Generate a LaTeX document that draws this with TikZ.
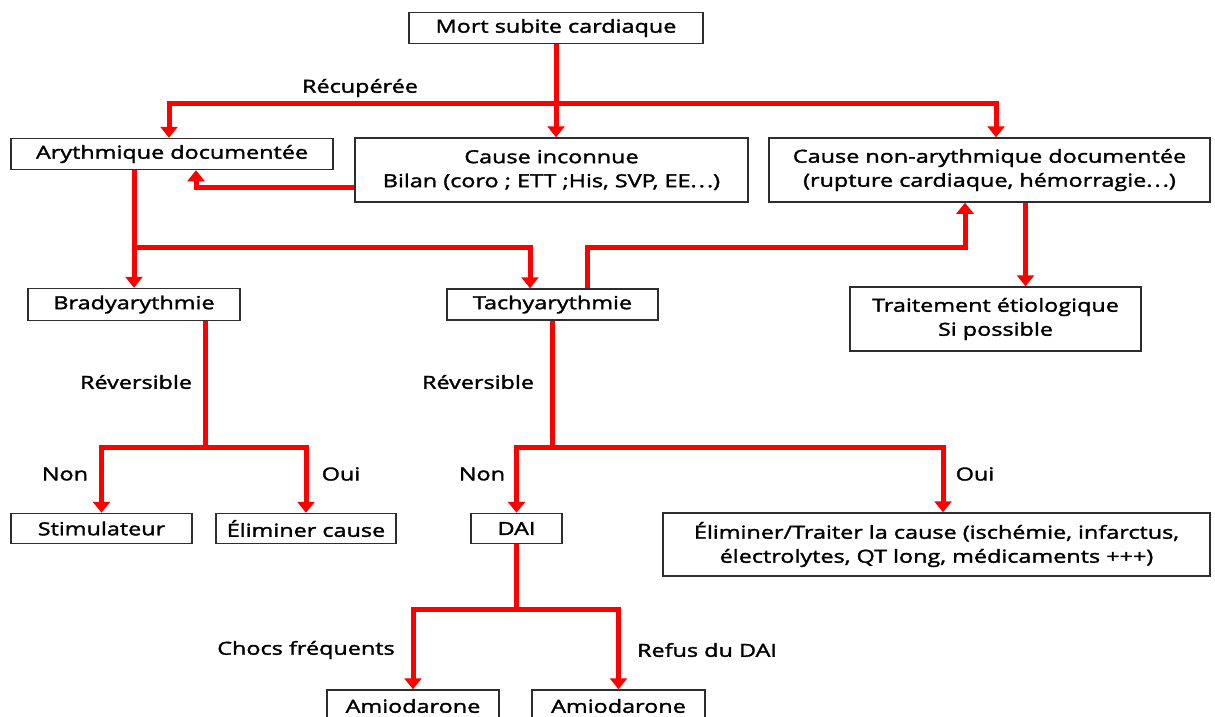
\documentclass[tikz,border=0pt]{standalone}
\usepackage{fontspec}
\setmainfont{Open Sans}[FakeStretch=1.3, FakeBold=1.8]
\usetikzlibrary{arrows.meta,positioning}
\usepackage{xcolor}
\definecolor{flowred}{HTML}{FF0000}
\definecolor{boxrule}{HTML}{2E2E2E}
\newcommand{\spdots}{.\kern2pt.\kern2pt.}

\begin{document}
\begin{tikzpicture}[
  x=1pt, y=-1pt,
  font=\fontsize{18}{24}\selectfont,
  box/.style={draw=boxrule, line width=1.5pt, align=center, inner sep=0pt,
              minimum height=31pt, fill=white},
  tall/.style={box, minimum height=64pt},
  flow/.style={-{Triangle[width=17pt,length=11pt]}, draw=flowred, line width=5pt},
  trunk/.style={draw=flowred, line width=5pt},
  lbl/.style={inner sep=1pt},
]
\useasboundingbox (0,0) rectangle (1215,717);

% boxes
\node[box, minimum width=294pt] (mort) at (556,28) {Mort subite cardiaque};
\node[box, minimum width=322pt] (arydoc) at (172,154) {Arythmique documentée};
\node[tall, minimum width=393pt] (inconnue) at (551.5,170)
  {Cause inconnue\\Bilan (coro ; ETT ;His, SVP, EE\spdots)};
\node[tall, minimum width=441pt] (nonary) at (989.5,170)
  {Cause non-arythmique documentée\\(rupture cardiaque, hémorragie\spdots)};
\node[box, minimum width=212pt, minimum height=32pt] (brady) at (134,304.5) {Bradyarythmie};
\node[box, minimum width=211pt] (tachy) at (552.5,304.5) {Tachyarythmie};
\node[tall, minimum width=291pt] (traitement) at (995.5,319)
  {Traitement étiologique\\Si possible};
\node[box, minimum width=181pt, minimum height=30pt] (stimul) at (101.5,528.5) {Stimulateur};
\node[box, minimum width=180pt, minimum height=30pt] (elimcause) at (306,528.5) {Éliminer cause};
\node[box, minimum width=91pt, minimum height=30pt] (dai) at (516.5,528.5) {DAI};
\node[tall, minimum width=547pt, minimum height=63pt] (traiter) at (936.5,544.5)
  {Éliminer/Traiter la cause (ischémie, infarctus,\\électrolytes, QT long, médicaments +++)};
\node[box, minimum width=172pt, minimum height=32pt] (amioa) at (413,706) {Amiodarone};
\node[box, minimum width=173pt, minimum height=32pt] (amiob) at (618.5,706) {Amiodarone};

% connectors
\coordinate (recy) at (0,103);
\coordinate (recup) at (mort.south |- recy);
\draw[flow] (mort.south) -- (mort.south |- inconnue.north);
\draw[flow] (recup) -| ([xshift=-3pt]arydoc.north);
\draw[flow] (recup) -| ([xshift=6.5pt]nonary.north);
\node[lbl] (lrecup) at (360,88) {Récupérée};

\draw[flow] ([yshift=-17pt]inconnue.west) -| ([xshift=24pt]arydoc.south);

\coordinate (splity) at (0,247);
\coordinate (split) at (brady.north |- splity);
\draw[trunk] (brady.north |- arydoc.south) -- (split);
\draw[flow] (split) -- (brady.north);
\draw[flow] (split) -| ([xshift=-22.5pt]tachy.north);
\draw[flow] ([xshift=34.5pt]tachy.north) -- ++(0,-41) -| ([xshift=-24.5pt]nonary.south);
\draw[flow] ([xshift=36pt]nonary.south) -- ([xshift=36pt]nonary.south |- traitement.north);

\coordinate (revy) at (0,447);
\coordinate (brev) at ([xshift=71pt]brady.south |- revy);
\draw[trunk] ([xshift=71pt]brady.south) -- (brev);
\draw[flow] (brev) -| (stimul.north);
\draw[flow] (brev) -| (elimcause.north);
\node[lbl] (lbrev) at (136,382) {Réversible};
\node[lbl] (lbnon) at (65,474) {Non};
\node[lbl] (lboui) at (341,474) {Oui};

\coordinate (trev) at (tachy.south |- revy);
\draw[trunk] (tachy.south) -- (trev);
\draw[flow] (trev) -| (dai.north);
\draw[flow] (trev) -| ([xshift=6.5pt]traiter.north);
\node[lbl] (ltrev) at (478,382) {Réversible};
\node[lbl] (ltnon) at (482,474) {Non};
\node[lbl] (ltoui) at (975,474) {Oui};

\coordinate (daisplit) at ([yshift=-65pt]dai.south);
\draw[trunk] (dai.south) -- (daisplit);
\draw[flow] (daisplit) -| (amioa.north);
\draw[flow] (daisplit) -| (amiob.north);
\node[lbl] (lchocs) at (306,650) {Chocs fréquents};
\node[lbl] (lrefus) at (707,650) {Refus du DAI};

\end{tikzpicture}
\end{document}
